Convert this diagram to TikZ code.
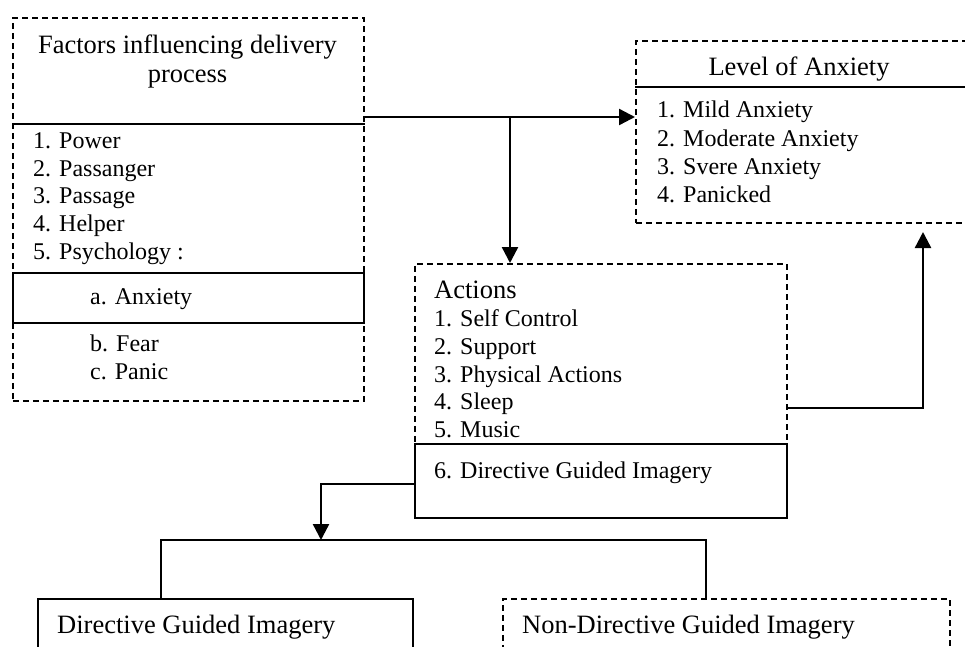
\documentclass[tikz,border=0pt]{standalone}
\usepackage{fontspec}
\setmainfont{Liberation Serif}
\usetikzlibrary{arrows.meta}
\begin{document}
\begin{tikzpicture}[x=1pt,y=-1pt,
  dbox/.style={draw, line width=1.9pt, dash pattern=on 6pt off 4pt, rectangle, inner sep=0pt, anchor=north west},
  sbox/.style={draw, line width=1.9pt, rectangle, inner sep=0pt, anchor=north west, fill=white},
  item/.style={anchor=base west, inner sep=0pt, font=\fontsize{24}{27}\selectfont},
  ttl/.style={anchor=base, inner sep=0pt, font=\fontsize{26.5}{29}\selectfont},
  ttlw/.style={anchor=base west, inner sep=0pt, font=\fontsize{26.5}{29}\selectfont},
  arr/.style={line width=2.4pt, -{Triangle[length=16pt,width=16pt]}},
  ln/.style={line width=1.9pt}]
\useasboundingbox (0,0) rectangle (965,646);

% boxes
\node[dbox, minimum width=351pt, minimum height=383pt] (fbox) at (12,17) {};
\node[sbox, minimum width=351pt, minimum height=50pt] (anx) at (12,272) {};
\node[dbox, minimum width=350pt, minimum height=182pt] (lvl) at (635,40) {};
\node[dbox, minimum width=372pt, minimum height=254pt] (act) at (414,263) {};
\node[sbox, minimum width=372pt, minimum height=74pt] (dgi6) at (414,443) {};
\node[sbox, minimum width=375pt, minimum height=90pt] (dgi) at (37,598) {};
\node[dbox, minimum width=447pt, minimum height=90pt] (ndgi) at (502,598) {};

% dividers
\coordinate (fdiv) at (0,124);
\draw[ln] (fdiv -| fbox.west) -- (fdiv -| fbox.east);
\coordinate (ldiv) at (0,87);
\draw[ln] (ldiv -| lvl.west) -- (ldiv -| lvl.east);

% left box text
\node[ttl] (f1) at (187.5,53) {Factors influencing delivery};
\node[ttl] (f2) at (187.5,82) {process};
\node[item] (p1) at (33,148) {1. Power};
\node[item] (p2) at (33,176) {2. Passanger};
\node[item] (p3) at (33,203) {3. Passage};
\node[item] (p4) at (33,231) {4. Helper};
\node[item] (p5) at (33,259) {5. Psychology :};
\node[item] (pa) at (90,304) {a. Anxiety};
\node[item] (pb) at (90,351) {b. Fear};
\node[item] (pc) at (90,379) {c. Panic};

% level box text
\node[ttl] (l0) at (799,75) {Level of Anxiety};
\node[item] (l1) at (657,117) {1. Mild Anxiety};
\node[item] (l2) at (657,146) {2. Moderate Anxiety};
\node[item] (l3) at (657,174) {3. Svere Anxiety};
\node[item] (l4) at (657,202) {4. Panicked};

% actions text
\node[ttlw] (a0) at (434,298) {Actions};
\node[item] (a1) at (434,326) {1. Self Control};
\node[item] (a2) at (434,354) {2. Support};
\node[item] (a3) at (434,382) {3. Physical Actions};
\node[item] (a4) at (434,409) {4. Sleep};
\node[item] (a5) at (434,437) {5. Music};
\node[item] (a6) at (434,478) {6. Directive Guided Imagery};

% bottom texts
\node[ttlw] (d1) at (57,633) {Directive Guided Imagery};
\node[ttlw] (d2) at (522,633) {Non-Directive Guided Imagery};

% connectors
\coordinate (j1) at (510,117);
\draw[line width=2.4pt] (j1 -| fbox.east) -- (j1);
\draw[arr] (j1) -- (j1 -| lvl.west);
\draw[arr] (j1) -- (j1 |- act.north);

\coordinate (r1) at (923,408);
\coordinate (r2) at (923,232);
\draw[arr] (r1 -| act.east) -- (r1) -- (r2);

\coordinate (b1) at (321,484);
\coordinate (b2) at (321,540);
\draw[arr] (b1 -| dgi6.west) -- (b1) -- (b2);

\coordinate (hL) at (161,540);
\coordinate (hR) at (706,540);
\draw[ln] (hL |- dgi.north) -- (hL) -- (hR) -- (hR |- ndgi.north);
\end{tikzpicture}
\end{document}
